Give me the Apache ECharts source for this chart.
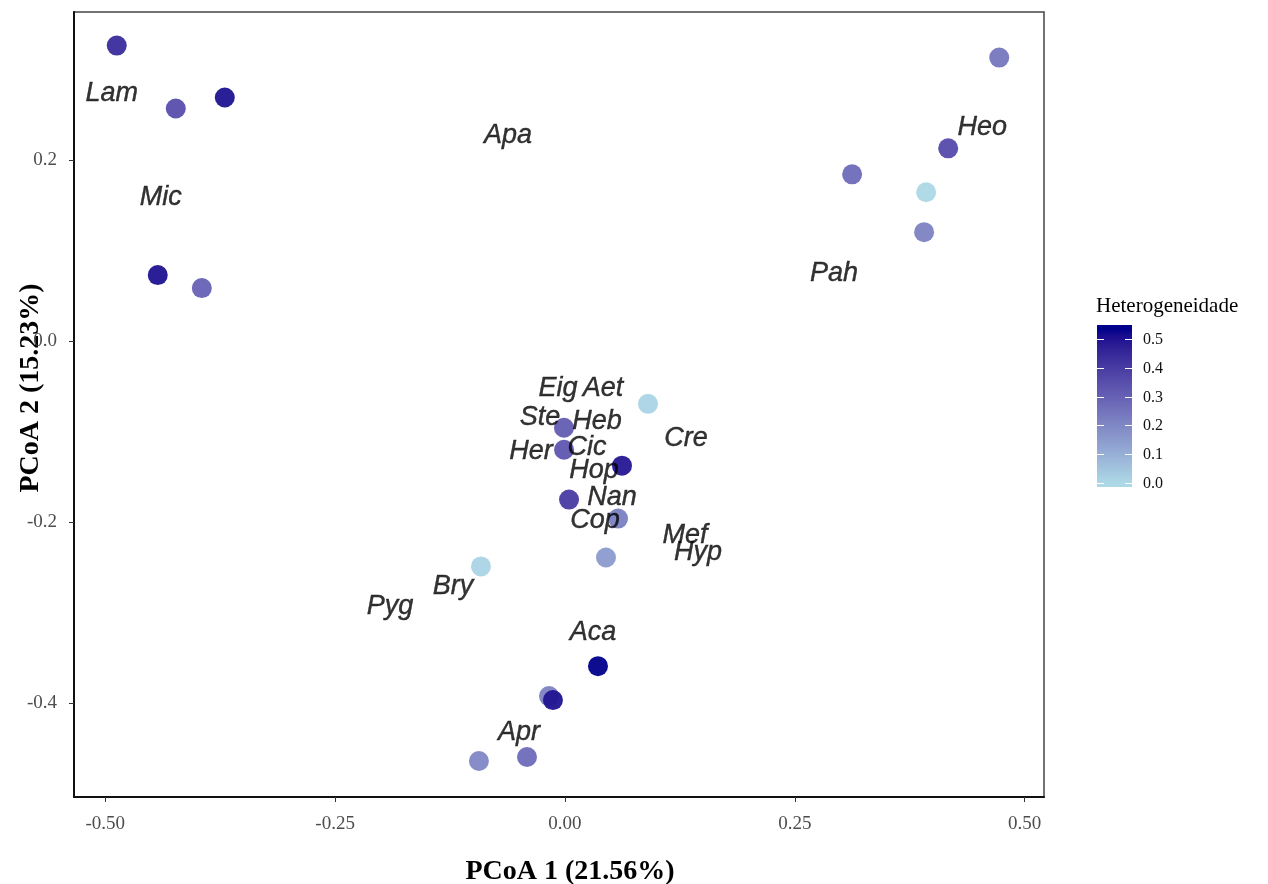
<!DOCTYPE html>
<html>
<head>
<meta charset="utf-8">
<script src="https://cdn.jsdelivr.net/npm/echarts@6/dist/echarts.min.js"></script>
<style>
html,body{margin:0;padding:0;background:#fff;}
#chart{width:1268px;height:884px;}
</style>
</head>
<body>
<div id="chart"></div>
<script>
// ---- data ----
const pointX = [-0.4875,-0.4233,-0.370,-0.4429,-0.395,0.4723,0.4168,0.3123,0.3928,0.3906,0.0903,-0.0011,-0.001,0.062,0.0044,0.0577,0.0446,-0.0914,0.0359,-0.0174,-0.0131,-0.0936,-0.0413];
const pointY = [0.3264,0.2569,0.269,0.0728,0.0584,0.3131,0.2128,0.1841,0.1643,0.1202,-0.0695,-0.0959,-0.1202,-0.1378,-0.1753,-0.1963,-0.2393,-0.2492,-0.3594,-0.3925,-0.3969,-0.4642,-0.4598];
const heterogeneity = [0.44,0.35,0.50,0.50,0.30,0.24,0.36,0.27,0.0,0.21,0.01,0.31,0.33,0.49,0.40,0.22,0.15,0.01,0.535,0.21,0.50,0.20,0.27];

const labelNames = ["Lam","Apa","Mic","Heo","Pah","Eig","Aet","Ste","Heb","Cre","Her","Cic","Hop","Nan","Cop","Mef","Hyp","Bry","Pyg","Aca","Apr"];
const labelX = [-0.4929,-0.062,-0.4396,0.4538,0.2927,-0.0076,0.0413,-0.0272,0.0348,0.1317,-0.037,0.0239,0.0316,0.0511,0.0326,0.1306,0.1447,-0.1219,-0.1904,0.0305,-0.0501];
const labelY = [0.2734,0.2271,0.1588,0.2359,0.075,-0.0529,-0.0529,-0.0849,-0.0893,-0.108,-0.1224,-0.118,-0.1433,-0.1731,-0.1985,-0.215,-0.2337,-0.2712,-0.2933,-0.3219,-0.4322];

const xTicks = [-0.5,-0.25,0,0.25,0.5];
const yTicks = [-0.4,-0.2,0,0.2];
const legendTicks = [0,0.1,0.2,0.3,0.4,0.5];
const colorMin = 0, colorMax = 0.535;
const lowColor = '#ADD8E6', highColor = '#00008B';

// ---- Lab interpolation (like ggplot's gradient) ----
function hexToRgb(h){h=h.replace('#','');return [0,2,4].map(i=>parseInt(h.substr(i,2),16));}
function toLin(c){c/=255;return c<=0.04045?c/12.92:Math.pow((c+0.055)/1.055,2.4);}
function fromLin(c){c=c<=0.0031308?12.92*c:1.055*Math.pow(c,1/2.4)-0.055;return Math.max(0,Math.min(255,Math.round(c*255)));}
function rgbToLab(rgb){
  const [r,g,b]=rgb.map(toLin);
  let X=(0.4124*r+0.3576*g+0.1805*b)/0.95047, Y=0.2126*r+0.7152*g+0.0722*b, Z=(0.0193*r+0.1192*g+0.9505*b)/1.08883;
  const f=t=>t>0.008856?Math.cbrt(t):7.787*t+16/116;
  const fx=f(X),fy=f(Y),fz=f(Z);
  return [116*fy-16,500*(fx-fy),200*(fy-fz)];
}
function labToHex(lab){
  const fy=(lab[0]+16)/116,fx=fy+lab[1]/500,fz=fy-lab[2]/200;
  const fi=t=>t*t*t>0.008856?t*t*t:(t-16/116)/7.787;
  const X=fi(fx)*0.95047,Y=fi(fy),Z=fi(fz)*1.08883;
  const r=3.2406*X-1.5372*Y-0.4986*Z,g=-0.9689*X+1.8758*Y+0.0415*Z,b=0.0557*X-0.2040*Y+1.0570*Z;
  return '#'+[r,g,b].map(fromLin).map(v=>v.toString(16).padStart(2,'0')).join('');
}
const labLo=rgbToLab(hexToRgb(lowColor)), labHi=rgbToLab(hexToRgb(highColor));
const nStops=21;
const gradColors=[];
for(let i=0;i<nStops;i++){const t=i/(nStops-1);gradColors.push(labToHex(labLo.map((v,k)=>v+(labHi[k]-v)*t)));}

// ---- legend geometry ----
const barLeft=1097, barTop=325, barW=35, barH=162;
const yAt0=483, yAtMax=329;
const vToY = v => yAt0 - (v-colorMin)/(colorMax-colorMin)*(yAt0-yAtMax);
const offOf = y => (y-barTop)/barH;
const gradStops=[];
for(let i=0;i<nStops;i++){
  const v=colorMin+(colorMax-colorMin)*i/(nStops-1);
  gradStops.push({offset:offOf(vToY(v)),color:gradColors[i]});
}
gradStops.reverse();
gradStops.unshift({offset:0,color:highColor});
gradStops.push({offset:1,color:lowColor});

const graphics=[
  {type:'text',left:1096,top:296,style:{text:'Heterogeneidade',font:'21px "Liberation Serif"',fill:'#000'}},
  {type:'text',x:31,y:388,rotation:Math.PI/2,style:{text:'PCoA 2 (15.23%)',font:'bold 28px "Liberation Serif"',fill:'#000',align:'center',verticalAlign:'middle'}},
  {type:'rect',shape:{x:barLeft,y:barTop,width:barW,height:barH},style:{fill:{type:'linear',x:0,y:0,x2:0,y2:1,colorStops:gradStops}}}
];
legendTicks.forEach(v=>{
  const y=Math.round(vToY(v))+0.5;
  graphics.push({type:'line',shape:{x1:barLeft,y1:y,x2:barLeft+7,y2:y},style:{stroke:'#fff',lineWidth:1}});
  graphics.push({type:'line',shape:{x1:barLeft+barW-7,y1:y,x2:barLeft+barW,y2:y},style:{stroke:'#fff',lineWidth:1}});
  graphics.push({type:'text',x:1143,y:y,style:{text:v.toFixed(1),font:'16px "Liberation Serif"',fill:'#111',verticalAlign:'middle'}});
});

const pts = pointX.map((x,i)=>[x,pointY[i],heterogeneity[i]]);
const labs = labelNames.map((n,i)=>({name:n,value:[labelX[i],labelY[i]]}));

const chart = echarts.init(document.getElementById('chart'),null,{renderer:'canvas'});
chart.setOption({
  animation:false,
  backgroundColor:'#fff',
  grid:{left:74,right:224,top:12,bottom:87,show:true,borderColor:'#444',borderWidth:1.5,backgroundColor:'transparent',containLabel:false,outerBoundsMode:'none'},
  xAxis:{
    type:'value',min:-0.534,max:0.521,
    name:'PCoA 1 (21.56%)',nameLocation:'middle',nameGap:61,
    nameTextStyle:{fontFamily:'Liberation Serif',fontWeight:'bold',fontSize:28,color:'#000',padding:[0,0,0,22]},
    axisLine:{show:true,onZero:false,lineStyle:{color:'#111',width:2}},
    axisTick:{show:true,length:5,customValues:xTicks,lineStyle:{color:'#333'}},
    axisLabel:{customValues:xTicks,formatter:v=>v.toFixed(2),fontFamily:'Liberation Serif',fontSize:19,color:'#4d4d4d',margin:18},
    splitLine:{show:false}
  },
  yAxis:{
    type:'value',min:-0.504,max:0.3635,
    axisLine:{show:true,onZero:false,lineStyle:{color:'#111',width:2}},
    axisTick:{show:true,length:5,customValues:yTicks,lineStyle:{color:'#333'}},
    axisLabel:{customValues:yTicks,formatter:v=>v.toFixed(1),fontFamily:'Liberation Serif',fontSize:19,color:'#4d4d4d',margin:17},
    splitLine:{show:false}
  },
  visualMap:{show:false,type:'continuous',min:colorMin,max:colorMax,dimension:2,seriesIndex:0,inRange:{color:gradColors}},
  series:[
    {type:'scatter',data:pts,symbolSize:20,itemStyle:{opacity:0.95},z:2},
    {type:'scatter',data:labs,symbolSize:1,itemStyle:{color:'transparent'},z:3,
     label:{show:true,position:'inside',formatter:p=>p.name,fontFamily:'Liberation Sans',fontStyle:'italic',fontSize:27,color:'#000',textBorderColor:'#000',textBorderWidth:0.4}}
  ],
  graphic:graphics
});
</script>
</body>
</html>
